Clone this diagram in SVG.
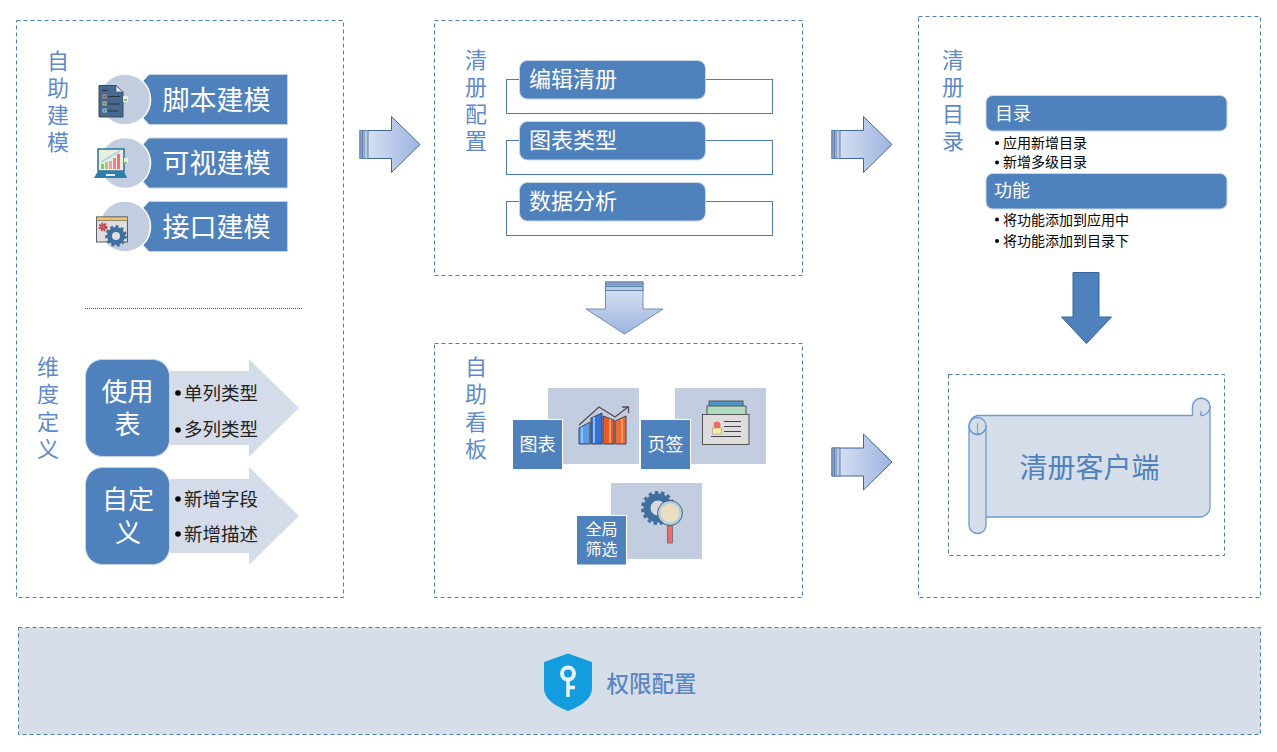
<svg xmlns="http://www.w3.org/2000/svg" width="1277" height="752" viewBox="0 0 1277 752">
  <style>
    text { font-family: "Noto Sans CJK SC", "Liberation Sans", sans-serif; }
    .panel { fill: none; stroke: #4a7ebb; stroke-width: 1; stroke-dasharray: 4 3; }
    .head { fill: #5f8aca; font-size: 22px; text-anchor: middle; }
    .banner { fill: #4f81bd; stroke: #c5d2e6; stroke-width: 1; }
    .bannerText { fill: #fff; font-size: 27px; text-anchor: middle; }
    .disc { fill: #c2cde0; stroke: #fff; stroke-width: 1.5; }
    .tileW { fill: #4f81bd; stroke: #fff; stroke-width: 1; }
    .pale { fill: #c2cde0; }
    .tArrow { fill: #d5dce9; }
    .big { fill: #fff; font-size: 26px; text-anchor: middle; }
    .item { fill: #222; font-size: 18.5px; }
    .dot { fill: #000; }
    .frame { fill: none; stroke: #4a7ebb; stroke-width: 1; }
    .pill { fill: #4f81bd; stroke: #c9d6e8; stroke-width: 1; }
    .pillText { fill: #fff; font-size: 22px; }
    .pillSmall { fill: #fff; font-size: 18px; }
    .list { fill: #000; font-size: 14px; }
    .tileText { fill: #fff; font-size: 18px; text-anchor: middle; }
    .tileSmall { fill: #fff; font-size: 16px; text-anchor: middle; }
    .flow { fill: url(#flowH); stroke: #3f6797; stroke-width: 1; }
    .flowV { fill: url(#flowV); stroke: #6f8fb8; stroke-width: 1; }
    .stripe { fill: #8aa3c6; stroke: #5f80ab; stroke-width: 1; }
    .stripeL { fill: #b8c9e0; stroke: #5f80ab; stroke-width: 1; }
    .roll { fill: #d6dfe9; stroke: #6f9bd1; stroke-width: 1.3; }
    .ink { stroke: #40485a; stroke-width: 1; }
  </style>
  <defs>
    <linearGradient id="flowH" x1="0" x2="1" y1="0" y2="0">
      <stop offset="0" stop-color="#dde5f4"/>
      <stop offset="1" stop-color="#9db4e0"/>
    </linearGradient>
    <linearGradient id="flowV" x1="0" x2="0" y1="0" y2="1">
      <stop offset="0" stop-color="#dde5f4"/>
      <stop offset="1" stop-color="#9db4e0"/>
    </linearGradient>
    <g id="rightArrow">
      <path class="flow" d="M360 130.500H391.500V116.500L420 144.500L391.500 172.500V158.500H360Z"/>
      <rect class="stripe" x="360" y="130.500" width="2.500" height="28"/>
      <rect class="stripeL" x="364" y="130.500" width="4" height="28"/>
    </g>
  </defs>

  <rect x="0" y="0" width="1277" height="752" fill="#fff"/>

  <g id="panels">
    <rect class="panel" x="16.500" y="20.500" width="327" height="577"/>
    <rect class="panel" x="434.500" y="20.500" width="368" height="255"/>
    <rect class="panel" x="434.500" y="343.500" width="368" height="254"/>
    <rect class="panel" x="918.500" y="16.500" width="342" height="581"/>
    <rect class="panel" x="948.500" y="374.500" width="276" height="181"/>
  </g>

  <g id="head-self-model">
    <text class="head" y="69"><tspan x="58">自</tspan><tspan x="58" dy="27">助</tspan><tspan x="58" dy="27">建</tspan><tspan x="58" dy="27">模</tspan></text>
  </g>

  <g id="node-script">
    <path class="banner" d="M149 74.500H287.500V124.500H149L143 118V81Z"/>
    <circle class="disc" cx="125" cy="99.500" r="25.500"/>
    <path d="M99 85.500H116L123 92V117H99Z" fill="#47698f" stroke="#3c4a5e"/>
    <path d="M116 85.500V92H123Z" fill="#e8edf3" stroke="#3c4a5e" stroke-width=".6"/>
    <path d="M102 90.500H108M108 96.500H120M108 104H120M108 111H118" stroke="#26323f" stroke-width="1.200"/>
    <rect x="103" y="95" width="3" height="3" fill="none" stroke="#d9806e"/>
    <rect x="103" y="102" width="3" height="3" fill="none" stroke="#c9c58f"/>
    <rect x="103" y="109" width="3" height="3" fill="none" stroke="#a8cfc5"/>
    <rect x="123" y="96" width="5" height="6" fill="#e9efe0"/>
    <rect x="124" y="99" width="3" height="2" fill="#8cbf6a"/>
    <text class="bannerText" x="216.500" y="109.500">脚本建模</text>
  </g>

  <g id="node-visual">
    <path class="banner" d="M149 138H287.500V188H149L143 181.500V144.500Z"/>
    <circle class="disc" cx="125" cy="163" r="25.500"/>
    <rect x="98" y="149" width="26" height="22" fill="#e9efdf" stroke="#2a7199" stroke-width="1.500"/>
    <path d="M94 178L98 171H124L127 178Z" fill="#2a7fae"/>
    <rect x="106" y="174" width="9" height="2" fill="#e8edf3"/>
    <path d="M101 162L120 151" stroke="#a9d0ee" stroke-width="1.500" fill="none"/>
    <rect x="101" y="164" width="3" height="5" fill="#8cc46b"/>
    <rect x="105" y="162" width="3" height="7" fill="#a5d07f"/>
    <rect x="109" y="161" width="3" height="8" fill="#f29aa6"/>
    <rect x="113" y="158" width="3" height="11" fill="#f0808f"/>
    <rect x="117" y="154" width="3" height="15" fill="#ee6f82"/>
    <rect x="124" y="158" width="4" height="6" fill="#e9efe0"/>
    <rect x="124" y="162" width="3" height="2" fill="#8cbf6a"/>
    <text class="bannerText" x="216.500" y="173">可视建模</text>
  </g>

  <g id="node-api">
    <path class="banner" d="M149 201.500H287.500V251.500H149L143 245V208Z"/>
    <circle class="disc" cx="125" cy="226.500" r="25.500"/>
    <rect x="96.500" y="217" width="31" height="25" fill="#dedde0" stroke="#5c5c66"/>
    <rect x="96.500" y="217" width="31" height="3.500" fill="#f4c45c" stroke="#5c5c66" stroke-width=".6"/>
    <circle cx="103" cy="227" r="3" fill="#d05a60" stroke="#b04850" stroke-width="3" stroke-dasharray="1.500 1"/>
    <circle cx="116" cy="236" r="6.500" fill="#dedde0" stroke="#3f6f9f" stroke-width="5"/>
    <circle cx="116" cy="236" r="9.500" fill="none" stroke="#3f6f9f" stroke-width="2.500" stroke-dasharray="3 2.500"/>
    <text class="bannerText" x="216.500" y="237">接口建模</text>
  </g>

  <path id="divider" d="M85 308.500H302" stroke="#555" stroke-width="1" stroke-dasharray="1 1" fill="none"/>

  <g id="head-dimension">
    <text class="head" y="375"><tspan x="48">维</tspan><tspan x="48" dy="27">度</tspan><tspan x="48" dy="28">定</tspan><tspan x="48" dy="27">义</tspan></text>
  </g>

  <g id="node-table">
    <path class="tArrow" d="M170 371H249V359L299 408L249 457V445H170Z"/>
    <rect class="banner" x="85.500" y="359.500" width="84" height="97" rx="17"/>
    <text class="big" y="401"><tspan x="127.500">使用</tspan><tspan x="127.500" dy="33">表</tspan></text>
    <circle class="dot" cx="178" cy="393" r="2.800"/>
    <text class="item" x="184" y="400">单列类型</text>
    <circle class="dot" cx="178" cy="430" r="2.800"/>
    <text class="item" x="184" y="436">多列类型</text>
  </g>

  <g id="node-custom">
    <path class="tArrow" d="M170 479H249V467L299 516L249 565V553H170Z"/>
    <rect class="banner" x="85.500" y="467.500" width="84" height="97" rx="17"/>
    <text class="big" y="509"><tspan x="128">自定</tspan><tspan x="128" dy="33">义</tspan></text>
    <circle class="dot" cx="178" cy="499" r="2.800"/>
    <text class="item" x="184" y="506">新增字段</text>
    <circle class="dot" cx="178" cy="534" r="2.800"/>
    <text class="item" x="184" y="541">新增描述</text>
  </g>

  <g id="head-register-config">
    <text class="head" y="68"><tspan x="476">清</tspan><tspan x="476" dy="27">册</tspan><tspan x="476" dy="27">配</tspan><tspan x="476" dy="27">置</tspan></text>
  </g>

  <g id="node-edit">
    <rect class="frame" x="506.500" y="79.500" width="266" height="34"/>
    <rect class="pill" x="519.500" y="60.500" width="186" height="38.500" rx="8"/>
    <text class="pillText" x="529" y="87">编辑清册</text>
  </g>
  <g id="node-chart-type">
    <rect class="frame" x="506.500" y="140.500" width="266" height="34"/>
    <rect class="pill" x="519.500" y="121.500" width="186" height="38.500" rx="8"/>
    <text class="pillText" x="529" y="148">图表类型</text>
  </g>
  <g id="node-analysis">
    <rect class="frame" x="506.500" y="201.500" width="266" height="34"/>
    <rect class="pill" x="519.500" y="182.500" width="186" height="38.500" rx="8"/>
    <text class="pillText" x="529" y="209">数据分析</text>
  </g>

  <g id="head-board">
    <text class="head" y="375"><tspan x="476">自</tspan><tspan x="476" dy="27">助</tspan><tspan x="476" dy="28">看</tspan><tspan x="476" dy="27">板</tspan></text>
  </g>

  <g id="node-chart">
    <rect class="pale" x="548" y="388" width="91" height="76"/>
    <path d="M579 444V428L590 422V444Z" fill="#5a9be8" class="ink"/>
    <path d="M591 444V418L602 413V444Z" fill="#3b6fd8" class="ink"/>
    <path d="M603 444V416L614 420V444Z" fill="#ea5a24" class="ink"/>
    <path d="M615 444V421L626 416V444Z" fill="#ee6a30" class="ink"/>
    <path d="M582 443V427M594 443V417" stroke="#8fc0f5" stroke-width="2"/>
    <path d="M610 443V419M622 443V419" stroke="#f59a70" stroke-width="2"/>
    <path d="M579 425L599 407L615 417L628 407M622 407H628.500V413" fill="none" stroke="#5a4a50" stroke-width="1.300"/>
    <rect class="tileW" x="512.500" y="419.500" width="50" height="50"/>
    <text class="tileText" x="537.500" y="451">图表</text>
  </g>

  <g id="node-tab">
    <rect class="pale" x="675" y="388" width="91" height="76"/>
    <rect x="709" y="401" width="34" height="6" fill="#4f96c8" stroke="#555"/>
    <rect x="707" y="406" width="39" height="9" fill="#b2dcc0" stroke="#555"/>
    <rect x="702.500" y="414.500" width="46.500" height="30" fill="#dedcdc" stroke="#555"/>
    <circle cx="717" cy="425" r="3.500" fill="#ec6a6a"/>
    <rect x="712.500" y="428" width="9" height="6" fill="#f4ee9e" stroke="#888" stroke-width=".5"/>
    <path d="M724 421.500H741M724 426.500H741M724 431.500H741M711 436.500H741" stroke="#444" stroke-width="1"/>
    <rect class="tileW" x="640.500" y="419.500" width="50" height="50"/>
    <text class="tileText" x="665.500" y="451">页签</text>
  </g>

  <g id="node-filter">
    <rect class="pale" x="611" y="483" width="91" height="76"/>
    <circle cx="658" cy="508" r="11" fill="#dcd8e0" stroke="#3f6f9f" stroke-width="7"/>
    <circle cx="658" cy="508" r="15.500" fill="none" stroke="#3f6f9f" stroke-width="3" stroke-dasharray="3.500 2.800"/>
    <rect x="667.500" y="526" width="5" height="17" fill="#ef6c6c" stroke="#666" stroke-width=".8"/>
    <circle cx="670" cy="513" r="11" fill="#ecdcc0" stroke="#a8d0e4" stroke-width="3"/>
    <circle cx="670" cy="513" r="12.500" fill="none" stroke="#445" stroke-width=".8"/>
    <rect class="tileW" x="576.500" y="515.500" width="50" height="49.500"/>
    <text class="tileSmall" y="535"><tspan x="601.500">全局</tspan><tspan x="601.500" dy="20">筛选</tspan></text>
  </g>

  <g id="head-register-catalog">
    <text class="head" y="68"><tspan x="953">清</tspan><tspan x="953" dy="27">册</tspan><tspan x="953" dy="27">目</tspan><tspan x="953" dy="27">录</tspan></text>
  </g>

  <g id="node-catalog">
    <rect class="pill" x="986" y="95.500" width="241" height="35.500" rx="7"/>
    <text class="pillSmall" x="995" y="120">目录</text>
    <circle class="dot" cx="997" cy="143" r="2"/>
    <circle class="dot" cx="997" cy="162.500" r="2"/>
    <text class="list" y="147.500"><tspan x="1003">应用新增目录</tspan><tspan x="1003" dy="19.500">新增多级目录</tspan></text>
  </g>

  <g id="node-function">
    <rect class="pill" x="986" y="173.500" width="241" height="35.500" rx="7"/>
    <text class="pillSmall" x="994" y="197">功能</text>
    <circle class="dot" cx="997" cy="219.500" r="2"/>
    <circle class="dot" cx="997" cy="241" r="2"/>
    <text class="list" y="224.500"><tspan x="1003">将功能添加到应用中</tspan><tspan x="1003" dy="21">将功能添加到目录下</tspan></text>
  </g>

  <g id="node-client">
    <path class="roll" d="M977.500 415.500H1192.500V407A8.500 8.500 0 0 1 1210 407V507A10 10 0 0 1 1200 517H986V525A8.500 8.500 0 0 1 969 525V426A10.500 10.500 0 0 1 977.500 415.500Z"/>
    <path class="roll" d="M969 426A8.500 8.500 0 0 0 986 426V517" style="fill:none"/>
    <circle class="roll" cx="977.500" cy="426" r="8.500" style="fill:none"/>
    <path d="M977.500 434.500V423" fill="none" stroke="#6f9bd1" stroke-width="1"/>
    <path class="roll" d="M1192.500 415.500V407A8.700 8.700 0 0 1 1210 407A8.700 8.700 0 0 1 1201 415.500V411" style="fill:#d6dfe9"/>
    <text x="1089.500" y="478" fill="#4f81bd" font-size="28" text-anchor="middle">清册客户端</text>
  </g>

  <g id="node-permission">
    <rect x="18.500" y="627.500" width="1242" height="107" fill="#d6dfe9" stroke="#4a7ebb" stroke-dasharray="4 3"/>
    <path d="M568 653.500L592 662V688C592 699 581 706 568 711C555 706 544 699 544 688V662Z" fill="#139ddf"/>
    <circle cx="568" cy="673.500" r="6" fill="none" stroke="#e6f4fc" stroke-width="4"/>
    <path d="M568 680V697M568 687.500H575" fill="none" stroke="#e6f4fc" stroke-width="3.500"/>
    <text x="651.500" y="692" fill="#5b86c4" font-size="22.500" font-weight="500" text-anchor="middle">权限配置</text>
  </g>

  <g id="connectors">
    <use href="#rightArrow"/>
    <use href="#rightArrow" x="472"/>
    <use href="#rightArrow" x="472" y="317.500"/>
    <path class="flowV" d="M605.500 282H643V309H663L624.500 334L586 309H605.500Z"/>
    <rect class="stripe" x="605.500" y="282" width="37.500" height="3"/>
    <rect class="stripeL" x="605.500" y="286.500" width="37.500" height="4"/>
    <path d="M1073 272.500H1099V317H1111.500L1086.500 343.500L1061.500 317H1073Z" fill="#4f81bd" stroke="#3a6496"/>
  </g>
</svg>
